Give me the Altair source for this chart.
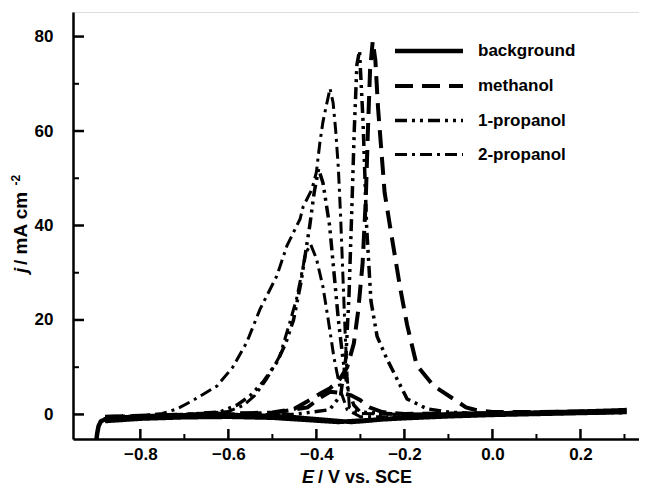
import altair as alt
import pandas as pd

# ---------------- data ----------------
series_names = ["background", "methanol", "1-propanol", "2-propanol"]

bg_E = [-0.9, -0.898, -0.895, -0.89, -0.88, -0.85, -0.8, -0.7, -0.6, -0.5, -0.45, -0.4, -0.35, -0.32,
        -0.28, -0.2, -0.1, 0.0, 0.1, 0.2, 0.3,
        0.3, 0.2, 0.1, 0.0, -0.1, -0.2, -0.3, -0.35, -0.4, -0.5, -0.6, -0.7, -0.8, -0.88]
bg_j = [-5.5, -4.0, -2.5, -1.5, -1.0, -0.7, -0.4, -0.2, -0.1, -0.3, -0.6, -1.0, -1.4, -1.6,
        -1.3, -0.6, 0.0, 0.2, 0.4, 0.6, 0.9,
        0.5, 0.3, 0.1, -0.1, -0.4, -0.8, -1.3, -1.6, -1.3, -0.7, -0.5, -0.6, -0.9, -1.4]

meoh_E = [-0.88, -0.7, -0.5, -0.45, -0.42, -0.39, -0.37, -0.35, -0.33, -0.315, -0.305, -0.295,
          -0.288, -0.283, -0.278, -0.272, -0.266, -0.26, -0.245, -0.233, -0.21, -0.194, -0.172,
          -0.134, -0.089, -0.06, -0.04, 0.0, 0.1, 0.2, 0.3,
          0.3, 0.1, -0.1, -0.2, -0.25, -0.28, -0.3, -0.32, -0.34, -0.369, -0.392, -0.42, -0.5,
          -0.7, -0.88]
meoh_j = [-0.5, 0.0, 0.4, 1.2, 2.8, 4.5, 5.5, 7.0, 10.0, 15.0, 22.0, 32.0,
          45.0, 60.0, 73.0, 79.0, 75.0, 65.0, 47.0, 40.0, 27.0, 19.0, 10.4,
          6.1, 3.3, 1.5, 1.0, 0.5, 0.5, 0.6, 0.8,
          0.6, 0.3, 0.2, 0.1, 0.5, 1.5, 3.0, 4.0, 4.5, 4.8, 3.5, 1.5, 0.3,
          -0.3, -0.8]

prop1_E = [-0.88, -0.7, -0.62, -0.58, -0.55, -0.52, -0.49, -0.47, -0.452, -0.435, -0.415, -0.405,
           -0.395, -0.385, -0.37, -0.36, -0.35, -0.34, -0.33, -0.315, -0.3, -0.2, 0.0, 0.3,
           0.3, 0.0, -0.1, -0.149, -0.194, -0.24, -0.262, -0.276, -0.286, -0.294, -0.302, -0.308,
           -0.314, -0.32, -0.326, -0.333, -0.345, -0.37, -0.45, -0.7, -0.88]
prop1_j = [-0.5, 0.0, 0.5, 2.0, 4.0, 7.0, 11.0, 15.0, 20.0, 28.0, 40.0, 47.0,
           52.0, 49.0, 40.0, 30.0, 20.0, 12.0, 6.0, 2.0, 0.5, 0.0, 0.2, 0.6,
           0.4, 0.0, 0.5, 1.2, 3.3, 11.8, 16.5, 24.0, 40.0, 62.0, 77.0, 74.0,
           60.0, 42.0, 25.0, 12.0, 4.0, 1.0, 0.0, -0.3, -0.8]

prop2_E = [-0.88, -0.8, -0.75, -0.716, -0.68, -0.626, -0.59, -0.558, -0.528, -0.49, -0.467, -0.437,
           -0.43, -0.41, -0.4, -0.392, -0.385, -0.376, -0.369, -0.362, -0.356, -0.35, -0.345, -0.34,
           -0.335, -0.33, -0.325, -0.3, -0.2, 0.0, 0.3,
           0.3, 0.0, -0.2, -0.3, -0.33, -0.345, -0.36, -0.373, -0.385, -0.4, -0.413, -0.425, -0.43,
           -0.445, -0.46, -0.483, -0.513, -0.54, -0.566, -0.6, -0.7, -0.88]
prop2_j = [-0.8, -0.3, 0.2, 1.2, 3.0, 6.0, 10.0, 15.3, 22.3, 29.3, 35.7, 41.4,
           44.0, 47.7, 51.3, 57.6, 62.0, 66.0, 69.0, 66.0, 60.0, 52.0, 42.0, 30.0,
           18.0, 8.0, 1.5, 0.2, 0.0, 0.2, 0.7,
           0.5, 0.0, -0.4, -0.5, 1.0, 5.0, 12.0, 20.0, 27.0, 33.0, 36.0, 34.0, 31.4,
           24.5, 19.6, 12.4, 7.5, 4.0, 1.9, 0.6, 0.0, -0.6]

x_major = [-0.8, -0.6, -0.4, -0.2, 0.0, 0.2]
x_minor = [-0.9, -0.7, -0.5, -0.3, -0.1, 0.1, 0.3]
y_major = [0, 20, 40, 60, 80]
y_minor = [10, 30, 50, 70]

x_domain = [-0.953, 0.333]
y_domain = [-5.2, 85.2]

# ---------------- tables ----------------
rows = []
for name, xs_, ys_ in [("background", bg_E, bg_j), ("methanol", meoh_E, meoh_j),
                       ("1-propanol", prop1_E, prop1_j), ("2-propanol", prop2_E, prop2_j)]:
    for i, (xv, yv) in enumerate(zip(xs_, ys_)):
        rows.append({"series": name, "E": xv, "j": yv, "idx": i})
df = pd.DataFrame(rows)

W, H = 566, 427
FONT = "Liberation Sans"

xs = alt.Scale(domain=x_domain, nice=False, zero=False)
ys = alt.Scale(domain=y_domain, nice=False, zero=False)

lines = alt.Chart(df).mark_line(color="black", clip=True).encode(
    x=alt.X("E:Q", scale=xs,
            axis=alt.Axis(values=x_major, format=".1f", title=None, ticks=False, grid=False,
                          labelFont=FONT, labelFontWeight="bold", labelFontSize=17,
                          labelColor="black", labelPadding=7, domainColor="black",
                          domainWidth=2.5)),
    y=alt.Y("j:Q", scale=ys,
            axis=alt.Axis(values=y_major, format="d", title=None, ticks=False, grid=False,
                          labelFont=FONT, labelFontWeight="bold", labelFontSize=17,
                          labelColor="black", labelPadding=20, domainColor="black",
                          domainWidth=2.5)),
    detail="series:N",
    order="idx:Q",
    strokeDash=alt.StrokeDash(
        "series:N",
        scale=alt.Scale(domain=series_names,
                        range=[[1, 0], [18, 9], [12, 5, 3, 5, 3, 5], [12, 5, 3, 5]]),
        legend=alt.Legend(title=None, orient="none", legendX=342, legendY=25,
                          symbolType="M-3,0H3", symbolSize=514, symbolStrokeWidth=3.5,
                          symbolStrokeColor="black", symbolFillColor="transparent",
                          labelFont=FONT, labelFontWeight="bold", labelFontSize=17,
                          labelColor="black", labelOffset=35, rowPadding=12.5, padding=0),
    ),
    strokeWidth=alt.StrokeWidth(
        "series:N",
        scale=alt.Scale(domain=series_names, range=[4.5, 3, 3, 3]),
        legend=None,
    ),
)

# inward ticks
xt_major = alt.Chart(pd.DataFrame({"v": x_major})).mark_rule(color="black", strokeWidth=2.5).encode(
    x=alt.X("v:Q", scale=xs), y=alt.value(H), y2=alt.value(H - 10))
xt_minor = alt.Chart(pd.DataFrame({"v": x_minor})).mark_rule(color="black", strokeWidth=2).encode(
    x=alt.X("v:Q", scale=xs), y=alt.value(H), y2=alt.value(H - 5))
yt_major = alt.Chart(pd.DataFrame({"v": y_major})).mark_rule(color="black", strokeWidth=2.5).encode(
    y=alt.Y("v:Q", scale=ys), x=alt.value(0), x2=alt.value(11))
yt_minor = alt.Chart(pd.DataFrame({"v": y_minor})).mark_rule(color="black", strokeWidth=2).encode(
    y=alt.Y("v:Q", scale=ys), x=alt.value(0), x2=alt.value(6))

# axis titles (mixed italic / superscript)
def txt(s, x, y, italic=False, size=19, angle=0, align="left"):
    return alt.Chart(pd.DataFrame({"t": [s]})).mark_text(
        font=FONT, fontWeight="bold", fontStyle="italic" if italic else "normal",
        fontSize=size, color="black", align=align, baseline="alphabetic", angle=angle
    ).encode(text="t:N", x=alt.value(x), y=alt.value(y))

xt1 = txt("E", 229, 471, italic=True, size=18)
xt2 = txt(" / V vs. SCE", 245, 471, size=18)
yt1 = txt("j", -46, 261, italic=True, size=19, angle=270)
yt2 = txt(" / mA cm", -46, 253, size=19, angle=270)
yt3 = txt("-2", -53, 173.5, size=12, angle=270)

chart = alt.layer(
    lines, xt_major, xt_minor, yt_major, yt_minor, xt1, xt2, yt1, yt2, yt3
).properties(
    width=W, height=H,
    autosize=alt.AutoSizeParams(type="none"),
    padding={"left": 65, "top": 4, "right": 0, "bottom": 48},
).configure_view(
    stroke="black", strokeWidth=2.5
).configure(background="white")

chart.save("out.html", embed_options={"renderer": "svg", "actions": False})
